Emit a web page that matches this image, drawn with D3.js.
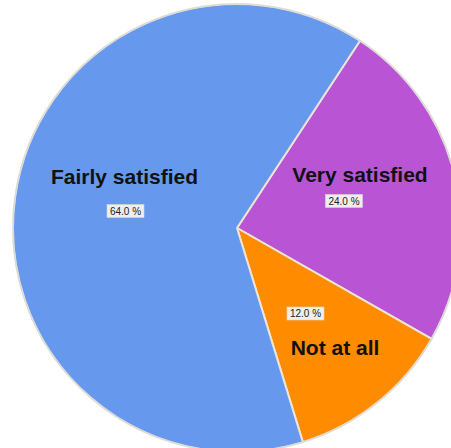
<!DOCTYPE html>
<html>
<head>
<meta charset="utf-8">
<script src="https://cdn.jsdelivr.net/npm/d3@7"></script>
<style>
  html, body { margin: 0; padding: 0; background: #ffffff; }
  svg { display: block; }
</style>
</head>
<body>
<svg id="chart" width="451" height="448"></svg>
<script>
// Satisfaction survey: share of respondents per answer
const categories = ["Very satisfied", "Not at all", "Fairly satisfied"];
const percents = [24.0, 12.0, 64.0];
const sliceColors = ["#B955D5", "#FF8C00", "#6699EE"];

// Where each category name and its percentage tag sit on the canvas
const labelPlacement = {
  "Fairly satisfied": { name: [124.5, 184], tag: [125.5, 211] },
  "Very satisfied":   { name: [360, 182],   tag: [344, 201] },
  "Not at all":       { name: [335, 355],   tag: [305.5, 313.5] }
};

const svg = d3.select("#chart");
const cx = 237, cy = 228, radius = 224;
const startDeg = 33.3;

const data = categories.map((c, i) => ({ category: c, value: percents[i], color: sliceColors[i] }));

const pie = d3.pie()
  .value(d => d.value)
  .sort(null)
  .startAngle(startDeg * Math.PI / 180)
  .endAngle((startDeg + 360) * Math.PI / 180);

const arc = d3.arc().innerRadius(0).outerRadius(radius);

const g = svg.append("g").attr("transform", `translate(${cx},${cy})`);

g.selectAll("path.slice")
  .data(pie(data))
  .join("path")
  .attr("class", "slice")
  .attr("d", arc)
  .attr("fill", d => d.data.color)
  .attr("stroke", "#ECE4D6")
  .attr("stroke-width", 2)
  .attr("stroke-linejoin", "round");

// thin outline around the whole pie
g.append("circle")
  .attr("r", radius)
  .attr("fill", "none")
  .attr("stroke", "#D9D9D9")
  .attr("stroke-width", 1.2);

const labels = svg.append("g");

data.forEach(d => {
  const p = labelPlacement[d.category];
  labels.append("text")
    .attr("x", p.name[0])
    .attr("y", p.name[1])
    .attr("text-anchor", "middle")
    .attr("font-family", "Arial, 'Liberation Sans', sans-serif")
    .attr("font-weight", "bold")
    .attr("font-size", 21)
    .attr("fill", "#111111")
    .text(d.category);

  const tag = labels.append("g").attr("transform", `translate(${p.tag[0]},${p.tag[1]})`);
  const txt = d3.format(".1f")(d.value) + " %";
  const t = tag.append("text")
    .attr("x", 0)
    .attr("y", 3.6)
    .attr("text-anchor", "middle")
    .attr("font-family", "Arial, 'Liberation Sans', sans-serif")
    .attr("font-size", 10)
    .attr("fill", "#222222")
    .text(txt);
  const bb = t.node().getBBox();
  tag.insert("rect", "text")
    .attr("x", -18.5)
    .attr("y", -6.5)
    .attr("width", 37)
    .attr("height", 13)
    .attr("fill", "#EEEEEE")
    .attr("stroke", "#D6D6D6")
    .attr("stroke-width", 0.6);
});
</script>
</body>
</html>
